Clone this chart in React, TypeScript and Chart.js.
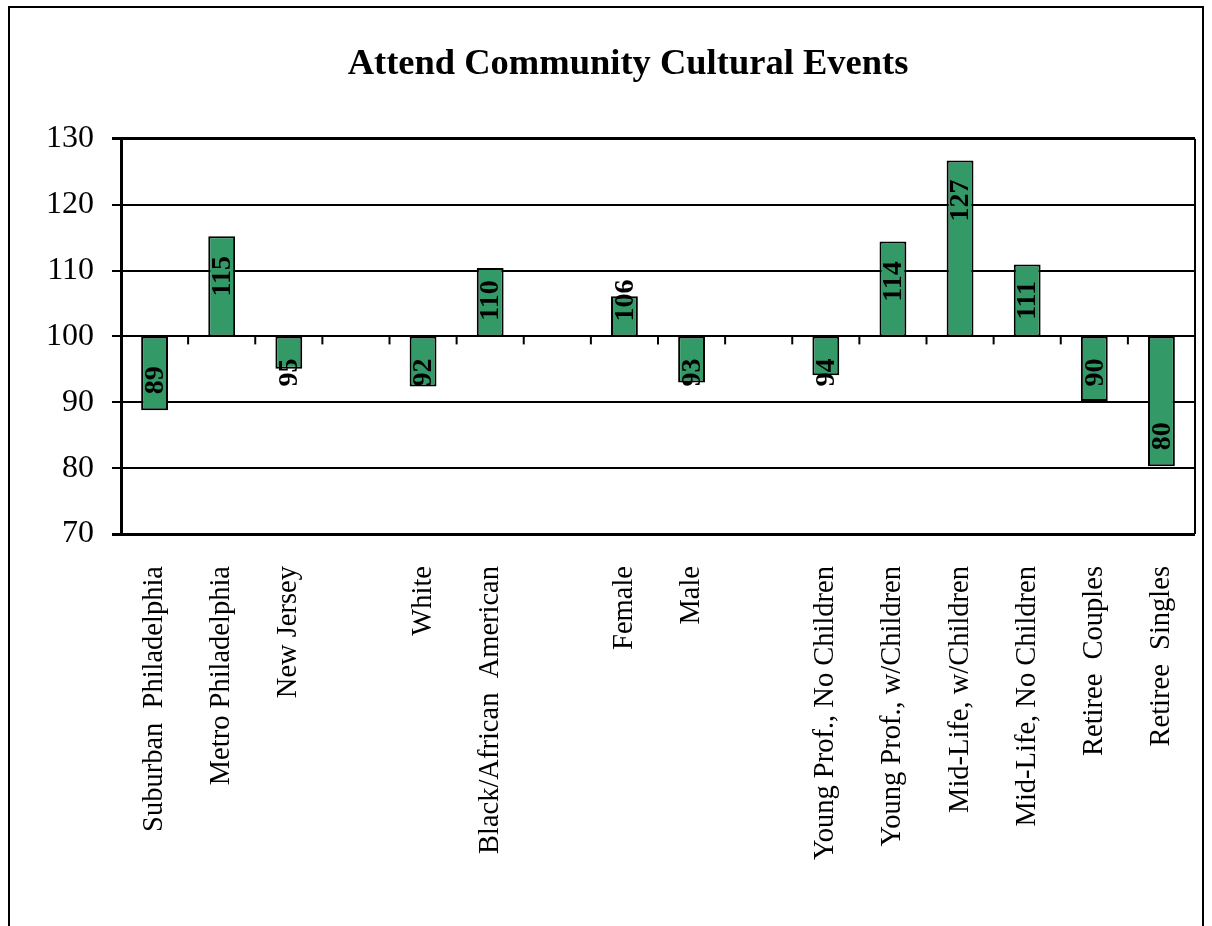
import React, { useEffect, useRef } from "react";
import { Chart, registerables } from "chart.js";

Chart.register(...registerables);

const chartTitle = "Attend Community Cultural Events";
const categories = [
  "Suburban  Philadelphia",
  "Metro Philadelphia",
  "New Jersey",
  "",
  "White",
  "Black/African  American",
  "",
  "Female",
  "Male",
  "",
  "Young Prof., No Children",
  "Young Prof., w/Children",
  "Mid-Life, w/Children",
  "Mid-Life, No Children",
  "Retiree  Couples",
  "Retiree  Singles",
];
const indexValues: (number | null)[] = [
  88.8, 115.2, 95.1, null, 92.4, 110.4, null, 106.1, 93.0, null, 94.1, 114.4, 126.7, 110.9, 90.2, 80.3,
];
const baseline = 100;
const yTicks = [70, 80, 90, 100, 110, 120, 130];

const SERIF = "'Liberation Serif', 'Times New Roman', serif";

const titleShiftPlugin = {
  id: "titleShift",
  afterLayout(chart: any) {
    const t = chart.titleBlock;
    if (t) t.left += 61;
  },
};

const decorPlugin = {
  id: "decor",
  afterDatasetsDraw(chart: any) {
    const { ctx, chartArea } = chart;
    const x = chart.scales.x;
    const y = chart.scales.y;
    const y100 = y.getPixelForValue(baseline);
    ctx.save();
    ctx.strokeStyle = "#000";
    ctx.lineWidth = 2;
    ctx.beginPath();
    ctx.moveTo(chartArea.right, chartArea.top);
    ctx.lineTo(chartArea.right, chartArea.bottom);
    ctx.stroke();
    for (let i = 0; i < categories.length - 1; i++) {
      const px = (x.getPixelForValue(i) + x.getPixelForValue(i + 1)) / 2;
      ctx.beginPath();
      ctx.moveTo(px, y100);
      ctx.lineTo(px, y100 + 8);
      ctx.stroke();
    }
    const meta = chart.getDatasetMeta(0);
    ctx.fillStyle = "#000";
    ctx.font = `bold 28px ${SERIF}`;
    ctx.textAlign = "center";
    ctx.textBaseline = "middle";
    meta.data.forEach((el: any, i: number) => {
      const v = indexValues[i];
      if (v == null) return;
      const base = y.getPixelForValue(baseline);
      const end = y.getPixelForValue(v);
      let cy;
      if (end < base) cy = Math.min(base - 36, end + 40);
      else cy = Math.max(base + 36, end - 30);
      ctx.save();
      ctx.translate(el.x, cy);
      ctx.rotate(-Math.PI / 2);
      ctx.fillText(String(Math.round(v)), 0, 1);
      ctx.restore();
    });
    ctx.restore();
  },
};

export default function App() {
  const ref = useRef<HTMLCanvasElement | null>(null);
  useEffect(() => {
    if (!ref.current) return;
    const chart = new Chart(ref.current, {
      type: "bar",
      data: {
        labels: categories,
        datasets: [
          {
            data: indexValues.map((v) => (v == null ? null : [baseline, v])) as any,
            backgroundColor: "#339966",
            borderColor: "#000",
            borderWidth: 2,
            borderSkipped: false,
            categoryPercentage: 1,
            barPercentage: 0.4,
          },
        ],
      },
      options: {
        responsive: false,
        animation: false,
        devicePixelRatio: 1,
        layout: { padding: { left: 0, right: 17, top: 0, bottom: 0 } },
        plugins: {
          legend: { display: false },
          tooltip: { enabled: false },
          title: {
            display: true,
            text: chartTitle,
            color: "#000",
            font: { family: SERIF, size: 36.5, weight: "bold", lineHeight: 1.2 },
            padding: { top: 43, bottom: 52 },
          },
        },
        scales: {
          x: {
            grid: { display: false, drawTicks: false },
            border: { display: false },
            ticks: {
              autoSkip: false,
              maxRotation: 90,
              minRotation: 90,
              padding: 32,
              color: "#000",
              font: { family: SERIF, size: 28.5 },
            },
            afterFit(scale: any) {
              scale.height = 392;
              scale.paddingLeft = 0;
              scale.paddingRight = 0;
            },
          },
          y: {
            min: 70,
            max: 130,
            afterBuildTicks(scale: any) {
              scale.ticks = yTicks.map((v) => ({ value: v }));
            },
            grid: {
              color: "#000",
              lineWidth: (c: any) => (c.tick && (c.tick.value === 70 || c.tick.value === 130) ? 3 : 2),
              drawTicks: true,
              tickLength: 9,
            },
            border: { display: true, color: "#000", width: 3 },
            ticks: {
              padding: 18,
              color: "#000",
              font: { family: SERIF, size: 32 },
            },
            afterFit(scale: any) {
              scale.width = 121;
              scale.paddingTop = 0;
              scale.paddingBottom = 0;
            },
          },
        },
      },
      plugins: [titleShiftPlugin, decorPlugin],
    });
    return () => chart.destroy();
  }, []);
  return (
    <div style={{ position: "fixed", left: 0, top: 0, width: 1212, height: 926, overflow: "hidden", background: "#fff" }}>
      <div style={{ position: "absolute", left: 8, top: 6, width: 1192, height: 1000, border: "2px solid #000" }} />
      <canvas ref={ref} width={1212} height={926} style={{ position: "absolute", left: 0, top: 0, width: 1212, height: 926 }} />
    </div>
  );
}
